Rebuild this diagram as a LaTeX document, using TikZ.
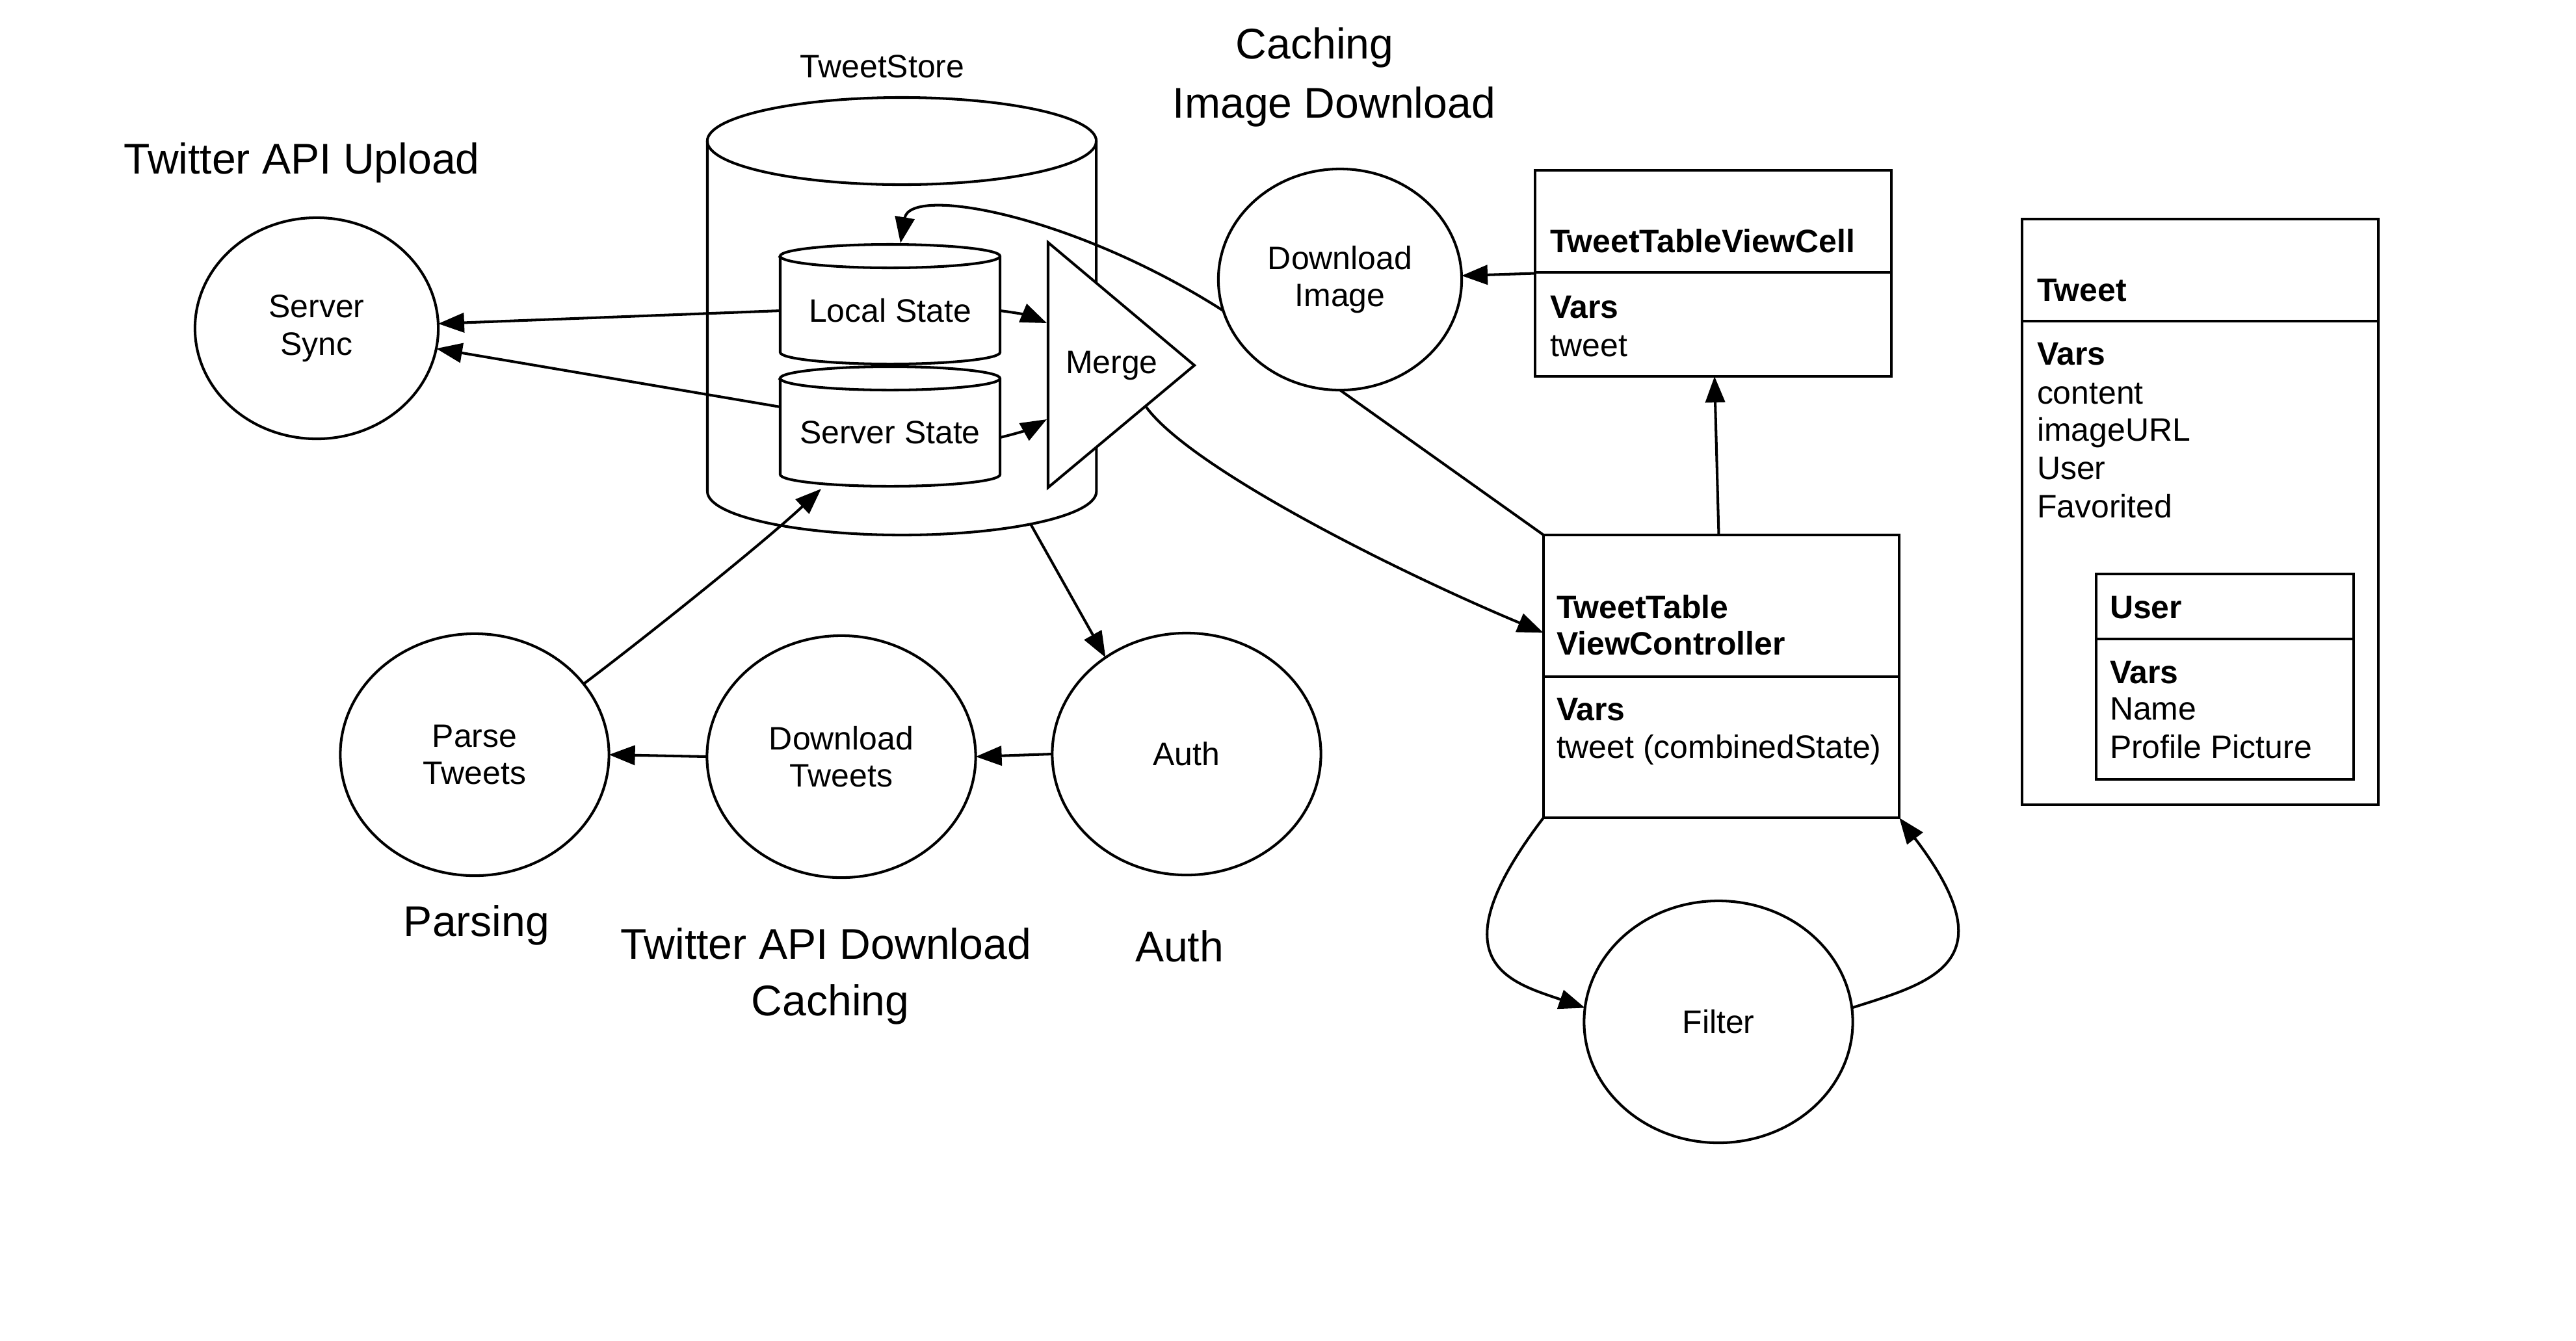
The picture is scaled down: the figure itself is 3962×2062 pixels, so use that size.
\documentclass[tikz,border=0pt]{standalone}
\usepackage{fontspec}
\setmainfont{Liberation Sans}
\usetikzlibrary{shapes.geometric,arrows.meta}
\newcommand{\smallfnt}{\fontsize{14.2}{16.4}\selectfont}
\newcommand{\bigfnt}{\fontsize{18.8}{26}\selectfont}
\begin{document}
\begin{tikzpicture}[x=0.01cm,y=-0.01cm,
  every node/.style={inner sep=0pt, outer sep=0pt},
  proc/.style={ellipse, draw, line width=1.15pt, font=\smallfnt, align=center},
  smallproc/.style={proc, minimum width=3.74cm, minimum height=3.40cm},
  bigproc/.style={proc, minimum width=4.13cm, minimum height=3.72cm},
  lbl/.style={font=\bigfnt},
  txt/.style={font=\smallfnt, anchor=base west},
  btxt/.style={font=\smallfnt\bfseries, anchor=base west},
  box/.style={draw, line width=1.15pt, rectangle, fill=white},
  arr/.style={-{Triangle[length=0.4cm,width=0.3cm]}, line width=1.15pt},
  ln/.style={line width=1.15pt},
]
\useasboundingbox (0,0) rectangle (3962,2062);

% ---------- TweetStore cylinder ----------
\node[font=\smallfnt] (storelbl) at (1357,102) {TweetStore};
\draw[ln] (1387,217) ellipse [x radius=2.99cm, y radius=0.67cm];
\draw[ln] (1088,217) -- (1088,756) arc[start angle=180, end angle=360, x radius=2.99cm, y radius=0.67cm] -- (1686,217);
\coordinate (storeb) at (1585,806);

% Local State cylinder
\draw[ln, fill=white] (1200,394) -- (1200,542) arc[start angle=180, end angle=360, x radius=1.69cm, y radius=0.18cm] -- (1538,394) arc[start angle=0, end angle=180, x radius=1.69cm, y radius=0.18cm] -- cycle;
\draw[ln] (1200,394) arc[start angle=180, end angle=360, x radius=1.69cm, y radius=0.18cm];
\node[font=\smallfnt, minimum width=3.38cm] (ls) at (1369,478) {Local State};
\coordinate (lstop) at (1385,374);

% Server State cylinder
\draw[ln, fill=white] (1200,582) -- (1200,730) arc[start angle=180, end angle=360, x radius=1.69cm, y radius=0.18cm] -- (1538,582) arc[start angle=0, end angle=180, x radius=1.69cm, y radius=0.18cm] -- cycle;
\draw[ln] (1200,582) arc[start angle=180, end angle=360, x radius=1.69cm, y radius=0.18cm];
\node[font=\smallfnt, minimum width=3.38cm] (ss) at (1369,665) {Server State};
\coordinate (ssbot) at (1263,752);

% Merge triangle
\draw[ln, fill=white] (1612,373) -- (1837,562) -- (1612,750) -- cycle;
\node[font=\smallfnt] (merge) at (1710,562) {Merge};
\coordinate (m1) at (1610,497);
\coordinate (m2) at (1610,645);
\coordinate (mout) at (1762,625);

% ---------- process ellipses ----------
\node[smallproc] (sync) at (487,505) {Server\\Sync};
\node[smallproc] (dli) at (2061,430) {Download\\Image};
\node[bigproc] (parse) at (730,1161) {Parse\\Tweets};
\node[bigproc] (dlt) at (1294,1164) {Download\\Tweets};
\node[bigproc] (auth) at (1825,1160) {Auth};
\node[bigproc] (filter) at (2643,1572) {Filter};

% ---------- labels ----------
\node[lbl] (l1) at (464,250) {Twitter API Upload};
\node[lbl] (l2) at (2022,73) {Caching};
\node[lbl] (l3) at (2052,164) {Image Download};
\node[lbl] (l4) at (733,1423) {Parsing};
\node[lbl] (l5) at (1270,1452) {Twitter API Download};
\node[lbl] (l6) at (1277,1545) {Caching};
\node[lbl] (l7) at (1814,1456) {Auth};

% ---------- TweetTableViewCell ----------
\node[box, minimum width=5.48cm, minimum height=3.17cm] (cell) at (2635,420.5) {};
\draw[ln] (2361,419) -- (2909,419);
\node[btxt] (cellt) at (2384,388) {TweetTableViewCell};
\node[btxt] (cellv) at (2384,489) {Vars};
\node[txt] (cellf) at (2384,548) {tweet};

% ---------- TweetTableViewController ----------
\node[box, minimum width=5.47cm, minimum height=4.35cm] (ttvc) at (2647.5,1040.5) {};
\draw[ln] (2374,1041) -- (2921,1041);
\node[btxt] (ttvct1) at (2394,951) {TweetTable};
\node[btxt] (ttvct2) at (2394,1007) {ViewController};
\node[btxt] (ttvcv) at (2394,1108) {Vars};
\node[txt] (ttvcf) at (2394,1166) {tweet (combinedState)};

% ---------- Tweet ----------
\node[box, minimum width=5.48cm, minimum height=9.01cm] (tweet) at (3384,787.5) {};
\draw[ln] (3110,494) -- (3658,494);
\node[btxt] (tweett) at (3133,463) {Tweet};
\node[btxt] (tweetv) at (3133,561) {Vars};
\node[txt] (tw1) at (3133,621) {content};
\node[txt] (tw2) at (3133,678) {imageURL};
\node[txt] (tw3) at (3133,737) {User};
\node[txt] (tw4) at (3133,796) {Favorited};

% ---------- User ----------
\node[box, minimum width=3.96cm, minimum height=3.16cm] (user) at (3422,1041) {};
\draw[ln] (3224,983) -- (3620,983);
\node[btxt] (usert) at (3245,951) {User};
\node[btxt] (userv) at (3245,1051) {Vars};
\node[txt] (us1) at (3245,1107) {Name};
\node[txt] (us2) at (3245,1166) {Profile Picture};

% ---------- connectors ----------
\draw[arr] (ls.west) -- (sync);
\draw[arr] ([yshift=0.39cm]ss.west) -- (sync);
\draw[arr] (ls.east) to[bend left=8] (m1);
\draw[arr] ([yshift=-0.08cm]ss.east) to[bend right=8] (m2);
\draw[arr] (dli.195) .. controls (1650,330) and (1400,285) .. (lstop);
\draw[arr] (mout) .. controls (1830,720) and (2150,880) .. ([yshift=0.67cm]ttvc.west);
\draw[arr] (parse.33) .. controls (1000,975) and (1180,830) .. (ssbot);
\draw[arr] (storeb) -- (auth.130);
\draw[arr] (dlt.west) -- (parse.east);
\draw[arr] (auth.west) -- (dlt.east);
\draw[arr] (cell.west) -- (dli);
\draw[ln] (dli.south) -- (ttvc.north west);
\draw[arr] ([xshift=-0.04cm]ttvc.north) -- ([xshift=0.02cm]cell.south);
\draw[arr] (ttvc.south west) .. controls (2204,1481) and (2323,1511) .. (filter.174);
\draw[arr] (filter.6) .. controls (2972,1511) and (3091,1481) .. (ttvc.south east);
\end{tikzpicture}
\end{document}
